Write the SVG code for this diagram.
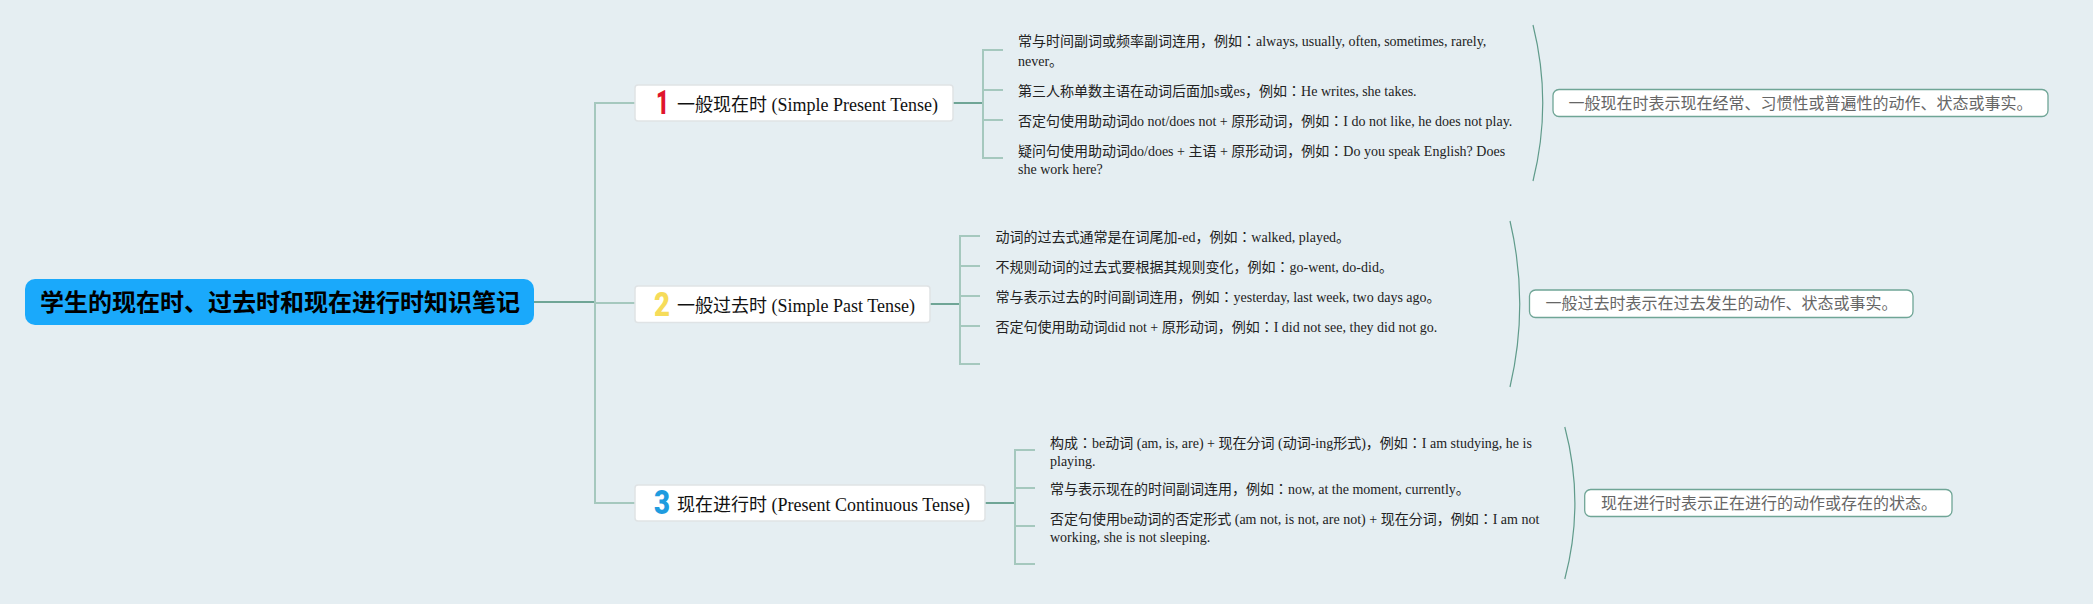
<svg xmlns="http://www.w3.org/2000/svg" width="2093" height="604" viewBox="0 0 2093 604">
<style>
text{font-family:"Liberation Serif","Noto Sans CJK JP",serif;white-space:pre}
.conn{fill:none;stroke:#a5c8be;stroke-width:2}
.dark{fill:none;stroke:#6fa596;stroke-width:2}
.arc{fill:none;stroke:#609b8b;stroke-width:1.2}
.node{fill:#fff;stroke:#dfe3e5;stroke-width:1.5}
.lbl{font-size:18px;fill:#111}
.leaf{font-size:14px;fill:#222}
.sumbox{fill:#fff;stroke:#6fa596;stroke-width:1.3}
.sum{font-size:16px;fill:#666}
.num{font-family:Roboto,"Liberation Sans",sans-serif;font-weight:900;font-size:34px}
</style>
<rect width="2093" height="604" fill="#e5eef2"/>
<g id="connectors">
<path class="dark" d="M534 302H595"/>
<path class="conn" d="M635 103H595V503H635M595 303H635"/>
<path class="dark" d="M953 103H983M930 304H960M985 503H1015"/>
<path class="conn" d="M1003 50H983V158H1003M983 90H1003M983 120H1003"/>
<path class="conn" d="M980 236H960V364H980M960 266H980M960 296H980M960 326H980"/>
<path class="conn" d="M1035 450H1015V564H1035M1015 488H1035M1015 526H1035"/>
<path class="arc" d="M1533 25Q1552.500 103 1533 181"/>
<path class="arc" d="M1510 221Q1529.500 304 1510 387"/>
<path class="arc" d="M1564.800 427Q1585 503 1564.800 579"/>
</g>
<g id="root"><rect x="25" y="279" width="509" height="46" rx="10" fill="#1aa9fb"/>
<text x="40" y="311" font-size="24" font-weight="700" fill="#000">学生的现在时、过去时和现在进行时知识笔记</text></g>
<g id="n1"><rect class="node" x="635" y="85" width="318" height="36" rx="3"/>
<text class="num" x="656" y="114" textLength="13" lengthAdjust="spacingAndGlyphs" fill="#e0162b">1</text>
<text class="lbl" x="677" y="111">一般现在时 (Simple Present Tense)</text></g>
<g id="n2"><rect class="node" x="635" y="286" width="295" height="36.500" rx="3"/>
<text class="num" x="654" y="316" textLength="16" lengthAdjust="spacingAndGlyphs" fill="#f6dc5a">2</text>
<text class="lbl" x="677" y="312">一般过去时 (Simple Past Tense)</text></g>
<g id="n3"><rect class="node" x="635" y="485" width="350" height="36" rx="3"/>
<text class="num" x="654" y="514" textLength="16" lengthAdjust="spacingAndGlyphs" fill="#1f9cdf">3</text>
<text class="lbl" x="677" y="511">现在进行时 (Present Continuous Tense)</text></g>
<g id="n1-leaves">
<g id="n1a"><text class="leaf" x="1018" y="46">常与时间副词或频率副词连用，例如：always, usually, often, sometimes, rarely,</text><text class="leaf" x="1018" y="66">never。</text></g>
<g id="n1b"><text class="leaf" x="1018" y="96">第三人称单数主语在动词后面加s或es，例如：He writes, she takes.</text></g>
<g id="n1c"><text class="leaf" x="1018" y="126">否定句使用助动词do not/does not + 原形动词，例如：I do not like, he does not play.</text></g>
<g id="n1d"><text class="leaf" x="1018" y="156">疑问句使用助动词do/does + 主语 + 原形动词，例如：Do you speak English? Does</text><text class="leaf" x="1018" y="174">she work here?</text></g>
</g>
<g id="n2-leaves">
<g id="n2a"><text class="leaf" x="995.500" y="242">动词的过去式通常是在词尾加-ed，例如：walked, played。</text></g>
<g id="n2b"><text class="leaf" x="995.500" y="272">不规则动词的过去式要根据其规则变化，例如：go-went, do-did。</text></g>
<g id="n2c"><text class="leaf" x="995.500" y="302">常与表示过去的时间副词连用，例如：yesterday, last week, two days ago。</text></g>
<g id="n2d"><text class="leaf" x="995.500" y="332">否定句使用助动词did not + 原形动词，例如：I did not see, they did not go.</text></g>
</g>
<g id="n3-leaves">
<g id="n3a"><text class="leaf" x="1050" y="448">构成：be动词 (am, is, are) + 现在分词 (动词-ing形式)，例如：I am studying, he is</text><text class="leaf" x="1050" y="466">playing.</text></g>
<g id="n3b"><text class="leaf" x="1050" y="494">常与表示现在的时间副词连用，例如：now, at the moment, currently。</text></g>
<g id="n3c"><text class="leaf" x="1050" y="524">否定句使用be动词的否定形式 (am not, is not, are not) + 现在分词，例如：I am not</text><text class="leaf" x="1050" y="542">working, she is not sleeping.</text></g>
</g>
<g id="s1"><rect class="sumbox" x="1553" y="89.500" width="495" height="27" rx="6"/><text class="sum" x="1568.500" y="108.500">一般现在时表示现在经常、习惯性或普遍性的动作、状态或事实。</text></g>
<g id="s2"><rect class="sumbox" x="1529.500" y="290" width="383.500" height="27.500" rx="6"/><text class="sum" x="1545.500" y="309">一般过去时表示在过去发生的动作、状态或事实。</text></g>
<g id="s3"><rect class="sumbox" x="1584.700" y="489.500" width="367.300" height="27" rx="6"/><text class="sum" x="1601" y="509">现在进行时表示正在进行的动作或存在的状态。</text></g>
</svg>
